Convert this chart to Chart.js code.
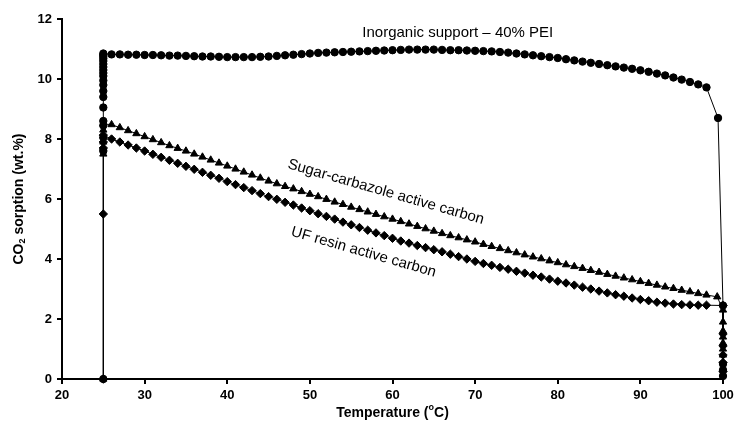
<!DOCTYPE html>
<html>
<head>
<title>CO2 sorption vs temperature</title>
<script src="https://cdn.jsdelivr.net/npm/chart.js"></script>
<style>
  body { margin: 0; background: #fff; }
</style>
</head>
<body>
<canvas id="chart" width="735" height="426"></canvas>
<script>
// temperature ramp (deg C) shared by the sloped parts of the curves
var temps = [26, 27, 28, 29, 30, 31, 32, 33, 34, 35, 36, 37, 38, 39, 40, 41, 42, 43, 44, 45,
  46, 47, 48, 49, 50, 51, 52, 53, 54, 55, 56, 57, 58, 59, 60, 61, 62, 63, 64, 65,
  66, 67, 68, 69, 70, 71, 72, 73, 74, 75, 76, 77, 78, 79, 80, 81, 82, 83, 84, 85,
  86, 87, 88, 89, 90, 91, 92, 93, 94, 95, 96, 97, 98];

// Inorganic support - 40% PEI (circles)
var peiStart = [0, 7.6, 8.05, 8.45, 8.6, 9.05, 9.4, 9.6, 9.8, 9.95, 10.1, 10.2, 10.3, 10.4, 10.5, 10.6, 10.68, 10.75, 10.8, 10.85];
var peiRamp = [10.82, 10.82, 10.81, 10.81, 10.80, 10.80, 10.79, 10.78, 10.78, 10.77, 10.76, 10.75, 10.75, 10.74, 10.73, 10.73, 10.73, 10.73, 10.74, 10.75,
  10.77, 10.79, 10.81, 10.83, 10.85, 10.87, 10.88, 10.89, 10.90, 10.91, 10.92, 10.93, 10.94, 10.95, 10.96, 10.97, 10.98, 10.98, 10.98, 10.98,
  10.97, 10.96, 10.96, 10.95, 10.94, 10.93, 10.92, 10.90, 10.88, 10.85, 10.82, 10.79, 10.76, 10.73, 10.70, 10.66, 10.62, 10.58, 10.54, 10.50,
  10.46, 10.42, 10.38, 10.34, 10.29, 10.24, 10.18, 10.12, 10.05, 9.98, 9.90, 9.82, 9.72];
var peiEndX = [99.4, 100, 100, 100, 100];
var peiEnd = [8.7, 2.45, 0.5, 0.3, 0.1];

// Sugar-carbazole active carbon (triangles)
var sugarStart = [0, 7.5, 7.7, 7.9, 8.1, 8.3, 8.5];
var sugarRamp = [8.48, 8.38, 8.28, 8.18, 8.08, 7.98, 7.88, 7.78, 7.69, 7.60, 7.50, 7.40, 7.30, 7.20, 7.10, 7.00, 6.90, 6.80, 6.70, 6.60,
  6.51, 6.42, 6.34, 6.25, 6.16, 6.08, 5.99, 5.90, 5.82, 5.73, 5.65, 5.57, 5.49, 5.41, 5.33, 5.25, 5.17, 5.09, 5.01, 4.93,
  4.85, 4.78, 4.71, 4.64, 4.57, 4.49, 4.42, 4.35, 4.28, 4.21, 4.14, 4.07, 4.01, 3.94, 3.88, 3.81, 3.75, 3.69, 3.62, 3.56,
  3.49, 3.43, 3.37, 3.31, 3.25, 3.19, 3.13, 3.07, 3.02, 2.96, 2.91, 2.85, 2.80];
var sugarEndX = [99.3, 100, 100, 100, 100, 100, 100, 100];
var sugarEnd = [2.74, 2.3, 1.9, 1.6, 1.4, 1.2, 1.0, 0.8];

// UF resin active carbon (diamonds)
var ufStart = [0, 5.5, 7.7, 7.9, 8.13];
var ufRamp = [8.00, 7.90, 7.80, 7.70, 7.60, 7.49, 7.39, 7.29, 7.19, 7.09, 6.99, 6.89, 6.79, 6.69, 6.58, 6.48, 6.38, 6.28, 6.18, 6.08,
  5.99, 5.89, 5.80, 5.70, 5.61, 5.51, 5.42, 5.33, 5.23, 5.14, 5.05, 4.96, 4.87, 4.78, 4.69, 4.60, 4.53, 4.45, 4.38, 4.31,
  4.24, 4.16, 4.08, 4.00, 3.92, 3.85, 3.79, 3.72, 3.66, 3.59, 3.53, 3.46, 3.40, 3.33, 3.26, 3.20, 3.13, 3.06, 3.00, 2.93,
  2.87, 2.81, 2.76, 2.70, 2.65, 2.61, 2.56, 2.53, 2.50, 2.48, 2.47, 2.46, 2.46];
var ufEndX = [100, 100, 100, 100, 100, 100];
var ufEnd = [2.45, 1.5, 1.1, 0.8, 0.55, 0.25];

var xTicks = [20, 30, 40, 50, 60, 70, 80, 90, 100];
var yTicks = [0, 2, 4, 6, 8, 10, 12];

function buildPoints(startY, rampY, endX, endY) {
  var pts = [];
  startY.forEach(function (v) { pts.push({ x: 25, y: v }); });
  rampY.forEach(function (v, i) { pts.push({ x: temps[i], y: v }); });
  endY.forEach(function (v, i) { pts.push({ x: endX[i], y: v }); });
  return pts;
}

function series(label, pts, style, radius) {
  return {
    label: label,
    data: pts,
    borderColor: "#000",
    backgroundColor: "#000",
    borderWidth: 1,
    pointStyle: style,
    pointRadius: radius,
    pointBorderWidth: 1,
    pointBackgroundColor: "#000",
    pointBorderColor: "#000",
    tension: 0,
    clip: false,
  };
}

// labels drawn on the plot plus axis titles with sub/superscripts
var textPlugin = {
  id: "texts",
  afterDatasetsDraw: function (chart) {
    var ctx = chart.ctx;
    var xs = chart.scales.x, ys = chart.scales.y;
    ctx.save();
    ctx.fillStyle = "#000";
    ctx.textAlign = "center";
    ctx.textBaseline = "middle";
    ctx.font = "15px 'Liberation Sans', Arial, sans-serif";
    ctx.fillText("Inorganic support \u2013 40% PEI", xs.getPixelForValue(67.9), ys.getPixelForValue(11.53));

    var rot = 16 * Math.PI / 180;
    ctx.save();
    ctx.translate(xs.getPixelForValue(59.2), ys.getPixelForValue(6.23));
    ctx.rotate(rot);
    ctx.fillText("Sugar-carbazole active carbon", 0, 0);
    ctx.restore();
    ctx.save();
    ctx.translate(xs.getPixelForValue(56.5), ys.getPixelForValue(4.23));
    ctx.rotate(rot);
    ctx.fillText("UF resin active carbon", 0, 0);
    ctx.restore();

    // x title: Temperature (oC)
    var big = "bold 14px 'Liberation Sans', Arial, sans-serif";
    var small = "bold 9px 'Liberation Sans', Arial, sans-serif";
    var p1 = "Temperature (", p2 = "o", p3 = "C)";
    ctx.font = big; var w1 = ctx.measureText(p1).width, w3 = ctx.measureText(p3).width;
    ctx.font = small; var w2 = ctx.measureText(p2).width;
    var cx = (xs.left + xs.right) / 2, x0 = cx - (w1 + w2 + w3) / 2, ty = 413;
    ctx.textAlign = "left";
    ctx.font = big; ctx.fillText(p1, x0, ty);
    ctx.font = small; ctx.fillText(p2, x0 + w1, ty - 5);
    ctx.font = big; ctx.fillText(p3, x0 + w1 + w2, ty);

    // y title: CO2 sorption (wt.%)
    var q1 = "CO", q2 = "2", q3 = " sorption (wt.%)";
    ctx.font = big; var v1 = ctx.measureText(q1).width, v3 = ctx.measureText(q3).width;
    ctx.font = small; var v2 = ctx.measureText(q2).width;
    ctx.save();
    ctx.translate(19, (ys.top + ys.bottom) / 2);
    ctx.rotate(-Math.PI / 2);
    var y0 = -(v1 + v2 + v3) / 2;
    ctx.font = big; ctx.fillText(q1, y0, 0);
    ctx.font = small; ctx.fillText(q2, y0 + v1, 4);
    ctx.font = big; ctx.fillText(q3, y0 + v1 + v2, 0);
    ctx.restore();
    ctx.restore();
  },
};

var tickFont = { family: "'Liberation Sans', Arial, sans-serif", size: 13, weight: "bold" };

new Chart(document.getElementById("chart").getContext("2d"), {
  type: "line",
  data: {
    datasets: [
      series("Inorganic support \u2013 40% PEI", buildPoints(peiStart, peiRamp, peiEndX, peiEnd), "circle", 3.7),
      series("Sugar-carbazole active carbon", buildPoints(sugarStart, sugarRamp, sugarEndX, sugarEnd), "triangle", 4.2),
      series("UF resin active carbon", buildPoints(ufStart, ufRamp, ufEndX, ufEnd), "rectRot", 4.2),
    ],
  },
  options: {
    responsive: false,
    animation: false,
    devicePixelRatio: 1,
    layout: { padding: { top: 19, right: 12, left: 0, bottom: 0 } },
    plugins: { legend: { display: false }, tooltip: { enabled: false } },
    scales: {
      x: {
        type: "linear",
        min: 20,
        max: 100,
        afterBuildTicks: function (s) { s.ticks = xTicks.map(function (v) { return { value: v }; }); },
        afterFit: function (s) { s.height = 47; s.paddingRight = 0; s.paddingLeft = 0; },
        border: { display: true, color: "#000", width: 2 },
        grid: { display: true, drawOnChartArea: false, drawTicks: true, tickLength: 5, color: "#000", lineWidth: 2 },
        ticks: { color: "#000", font: tickFont, padding: 4, maxRotation: 0 },
      },
      y: {
        min: 0,
        max: 12,
        afterBuildTicks: function (s) { s.ticks = yTicks.map(function (v) { return { value: v }; }); },
        afterFit: function (s) { s.width = 62; s.paddingTop = 0; s.paddingBottom = 0; },
        border: { display: true, color: "#000", width: 2 },
        grid: { display: true, drawOnChartArea: false, drawTicks: true, tickLength: 5, color: "#000", lineWidth: 2 },
        ticks: { color: "#000", font: tickFont, padding: 5 },
      },
    },
  },
  plugins: [textPlugin],
});
</script>
</body>
</html>
